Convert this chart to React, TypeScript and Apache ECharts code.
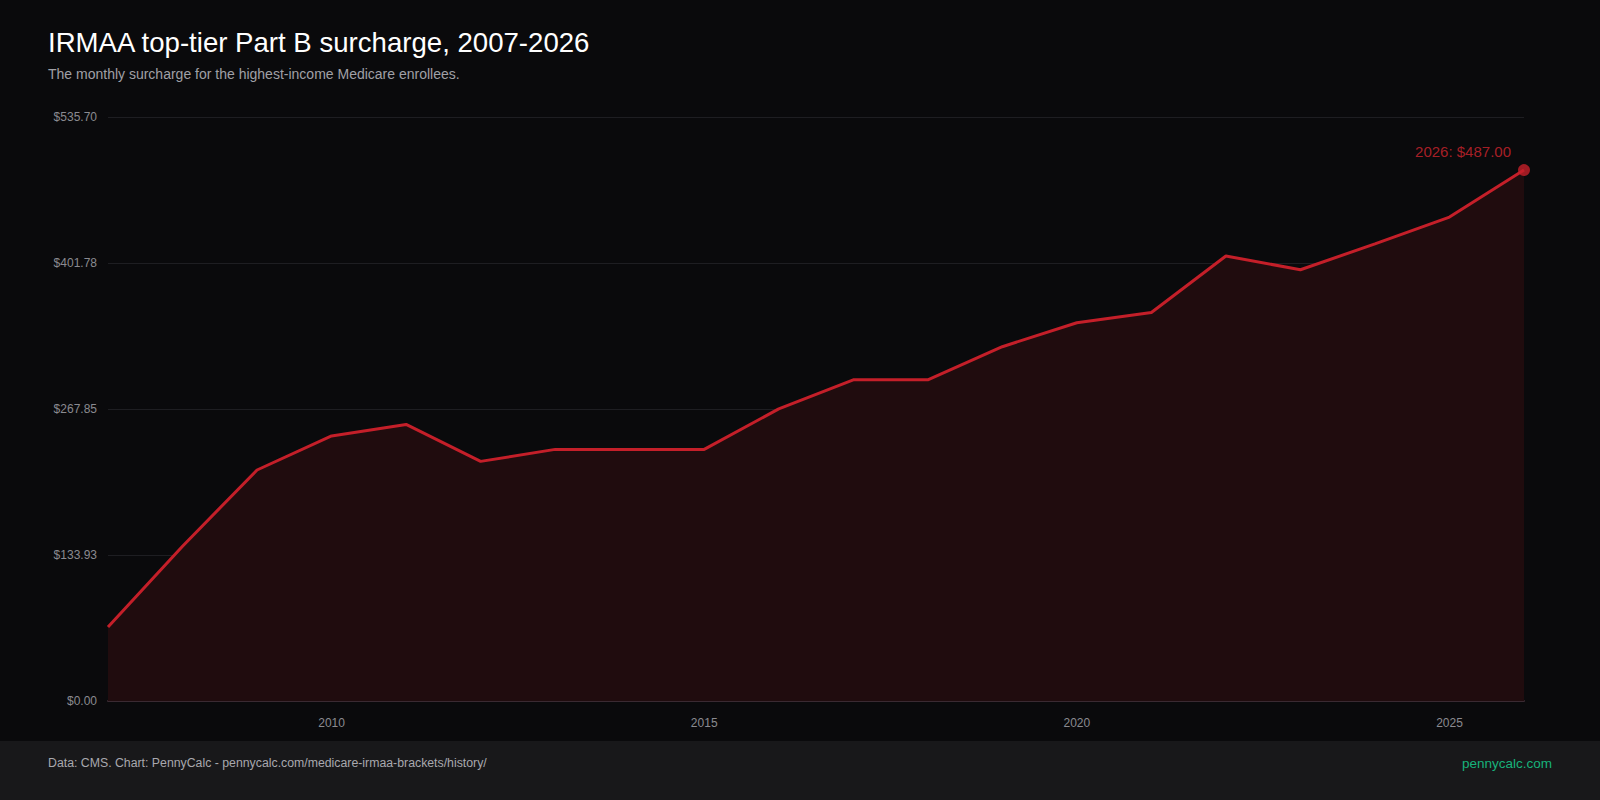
import React, { useEffect, useRef } from "react";
import * as echarts from "echarts";

const years = ["2007","2008","2009","2010","2011","2012","2013","2014","2015","2016","2017","2018","2019","2020","2021","2022","2023","2024","2025","2026"];
const surcharge = [67.9,142.0,211.9,243.1,253.7,219.8,230.8,230.8,230.8,268.0,294.6,294.6,325.0,347.0,356.4,408.2,395.6,419.3,443.9,487.0];
const yMax = 535.7;
const yInterval = 133.925;

const FONT = "'Liberation Sans', Arial, Helvetica, sans-serif";
const RED = "#c41f29";

export default function App() {
  const ref = useRef<HTMLDivElement>(null);
  useEffect(() => {
    document.body.style.margin = "0";
    const chart = echarts.init(ref.current!, null, { renderer: "svg" });
    const last = years.length - 1;
    chart.setOption({
      animation: false,
      backgroundColor: "#0a0a0c",
      textStyle: { fontFamily: FONT },
      grid: { left: 108, right: 76, top: 117, bottom: 99 },
      graphic: [
        { type: "rect", shape: { x: 0, y: 741, width: 1600, height: 59 }, style: { fill: "#18181a" }, silent: true },
        { type: "text", x: 48, y: 42, style: { text: "IRMAA top-tier Part B surcharge, 2007-2026", fill: "#ffffff", font: `27.6px ${FONT}`, textVerticalAlign: "middle" } },
        { type: "text", x: 48, y: 74, style: { text: "The monthly surcharge for the highest-income Medicare enrollees.", fill: "#a0a0a6", font: `14px ${FONT}`, textVerticalAlign: "middle" } },
        { type: "text", x: 48, y: 763, style: { text: "Data: CMS. Chart: PennyCalc - pennycalc.com/medicare-irmaa-brackets/history/", fill: "#a8a8ae", font: `12.3px ${FONT}`, textVerticalAlign: "middle" } },
        { type: "text", x: 1552, y: 763, style: { text: "pennycalc.com", fill: "#17b27a", font: `13.5px ${FONT}`, textAlign: "right", textVerticalAlign: "middle" } },
      ],
      xAxis: {
        type: "category",
        data: years,
        boundaryGap: false,
        axisLine: { show: true, lineStyle: { color: "#3a2a32", width: 2 } },
        axisTick: { show: false },
        axisLabel: {
          color: "#8a8a90",
          fontSize: 12,
          margin: 16,
          interval: (i: number, v: string) => Number(v) % 5 === 0,
        },
        splitLine: { show: false },
      },
      yAxis: {
        type: "value",
        min: 0,
        max: yMax,
        interval: yInterval,
        axisLine: { show: false },
        axisTick: { show: false },
        axisLabel: {
          color: "#8a8a90",
          fontSize: 12,
          margin: 11,
          formatter: (v: number) => "$" + (Math.round(v * 100 + 1e-6) / 100).toFixed(2),
        },
        splitLine: { lineStyle: { color: "#1e1e22", width: 1 } },
      },
      series: [
        {
          type: "line",
          data: surcharge,
          symbol: "none",
          lineStyle: { color: RED, width: 3 },
          areaStyle: { color: "#200c0e", opacity: 1 },
          z: 2,
        },
        {
          type: "scatter",
          data: [[last, surcharge[last]]],
          symbolSize: 12,
          itemStyle: { color: RED },
          z: 3,
          label: {
            show: true,
            position: "top",
            align: "right",
            distance: 5,
            offset: [-13, 0],
            color: "#d0252e",
            fontSize: 15,
            formatter: () => `${years[last]}: $${surcharge[last].toFixed(2)}`,
          },
        },
      ],
    });
    return () => chart.dispose();
  }, []);
  return <div ref={ref} style={{ width: 1600, height: 800 }} />;
}
